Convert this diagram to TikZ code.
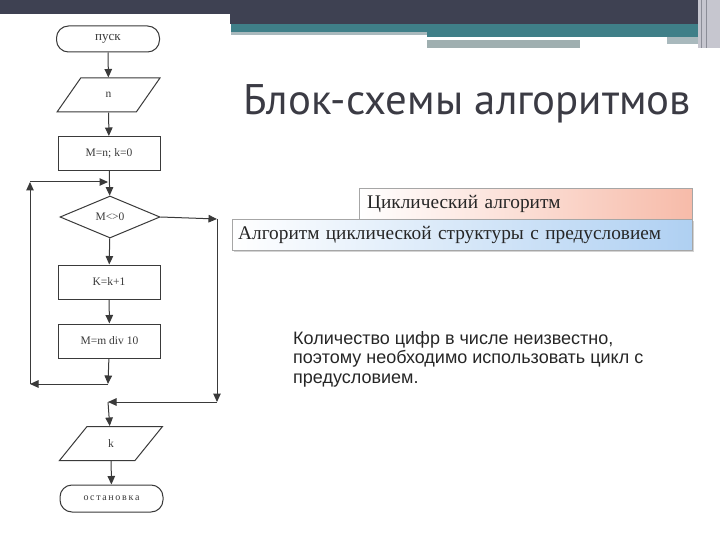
\documentclass[tikz,border=0pt]{standalone}
\usepackage{fontspec}
\setmainfont{Liberation Serif}
\newfontfamily\titlefont{PT Sans}
\newfontfamily\bodyfont{Liberation Sans}
\usetikzlibrary{shapes.geometric,arrows.meta,shadows}
\definecolor{barDark}{HTML}{3E4152}
\definecolor{barTeal}{HTML}{3F7F88}
\definecolor{barGrayA}{HTML}{A9B9BD}
\definecolor{barGrayB}{HTML}{9FAFB0}
\definecolor{stripGray}{HTML}{C6C6CF}
\definecolor{ink}{HTML}{3A3A3A}
\definecolor{titleCol}{HTML}{3B3B44}
\definecolor{salmon}{HTML}{F7BBA9}
\definecolor{skyblue}{HTML}{AFD0F2}
\tikzset{
  x=1pt, y=-1pt,
  fc/.style={draw=ink, line width=1pt, text=ink, font=\fontsize{11.5}{13}\selectfont, inner sep=1pt},
  term/.style={fc, rectangle, rounded corners=12pt, minimum width=103pt, minimum height=26pt},
  proc/.style={fc, rectangle, minimum width=102pt, minimum height=34pt},
  io/.style={fc, trapezium, trapezium left angle=66, trapezium right angle=114, trapezium stretches=true, minimum width=103pt, minimum height=34pt},
  dec/.style={fc, diamond, minimum width=100pt, minimum height=42pt},
  conn/.style={draw=ink, line width=1pt, -{Triangle[length=8.5pt,width=7.5pt]}},
}
\begin{document}
\begin{tikzpicture}
\useasboundingbox (0,0) rectangle (720,540);
% decorative top bar
\fill[barDark] (0,0) rectangle (698,24);
\fill[barTeal] (231,24) rectangle (698,33);
\fill[barTeal] (427,33) rectangle (698,37);
\fill[barGrayA] (231,32) rectangle (427,35);
\fill[white] (427,37) rectangle (667,40);
\fill[barGrayB] (427,40) rectangle (580,48);
\fill[barGrayA] (667,37) rectangle (698,44);
\fill[stripGray] (698,0) rectangle (720,48);
\draw[barDark!60, line width=0.8pt] (701,0) -- (701,48) (706,0) -- (706,48);
\fill[white] (0,14) rectangle (230,540);

% flowchart
\node[term, font=\fontsize{13}{15}\selectfont] (start) at (108,39) {пуск};
\node[io] (inp) at (108.5,95) {n};
\node[proc] (init) at (109,153.5) {M=n; k=0};
\node[dec] (cond) at (110,217) {M<>0};
\node[proc] (inc) at (109,282) {K=k+1};
\node[proc] (div) at (109.5,341) {M=m div 10};
\node[io] (outp) at (111,443.5) {k};
\node[term, minimum height=27pt] (stop) at (111.5,498.5) {\fontsize{10}{12}\selectfont о\,с\,т\,а\,н\,о\,в\,к\,а};

\coordinate (jt) at (108,182);
\coordinate (lt) at (30,182);
\coordinate (lb) at (30,384);
\coordinate (jb) at (108,384);
\coordinate (rt) at (217,219);
\coordinate (rb) at (217,402);
\coordinate (jk) at (108,402);

\draw[conn] (start) -- (inp);
\draw[conn] (inp) -- (init);
\draw[conn] (init) -- (cond);
\draw[conn] (cond) -- (inc);
\draw[conn] (inc) -- (div);
\draw[conn] (div) -- (jb);
\draw[conn] (jb) -- (lb);
\draw[conn] (lb) -- (lt);
\draw[conn] (lt) -- (jt);
\draw[conn] (cond.east) -- (rt);
\draw[conn] (rt) -- (rb);
\draw[conn] (rb) -- (jk);
\draw[conn] (jk) -- (outp);
\draw[conn] (outp) -- (stop);

% title
\node[anchor=base west, inner sep=0pt, text=titleCol, font=\titlefont\fontsize{42.8}{50}\selectfont] (title) at (243,115) {Блок-схемы алгоритмов};

% labelled boxes
\node[anchor=north west, draw=gray!70, left color=white, right color=salmon, minimum width=333pt, minimum height=31pt, inner xsep=8pt, text width=317pt, align=left, font=\fontsize{19.3}{22}\selectfont, text=black!85] (kind) at (359,188) {Циклический алгоритм};
\node[anchor=north west, draw=gray!70, left color=white, right color=skyblue, drop shadow={shadow xshift=1.5pt, shadow yshift=-1.5pt, opacity=0.35}, minimum width=460pt, minimum height=31pt, inner xsep=6pt, text width=448pt, align=left, font=\fontsize{19.3}{22}\selectfont, text=black!85] (sub) at (232,219) {Алгоритм циклической структуры с предусловием};

% body text
\node[anchor=north west, inner sep=0pt, align=left, font=\bodyfont\fontsize{18}{19.5}\selectfont, text=black!85] (body) at (293,331) {Количество цифр в числе неизвестно,\\поэтому необходимо использовать цикл с\\предусловием.};
\end{tikzpicture}
\end{document}
